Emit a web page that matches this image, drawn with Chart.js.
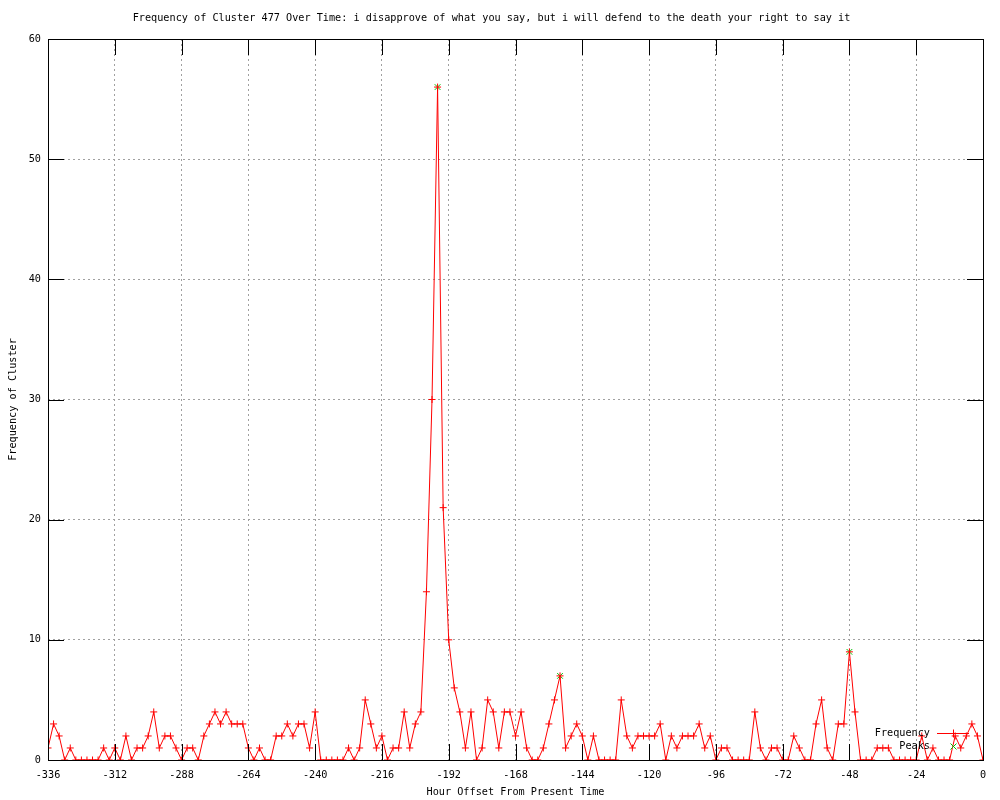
<!DOCTYPE html>
<html>
<head>
<meta charset="utf-8">
<script src="https://cdn.jsdelivr.net/npm/chart.js@4"></script>
<style>
  html, body { margin: 0; padding: 0; background: #fff; }
  canvas { display: block; }
</style>
</head>
<body>
<canvas id="chart" width="1000" height="800"></canvas>
<script>
// data (one value every 2 hours, -336 .. 0)
const START_HOUR = -336;
const STEP_HOURS = 2;
const frequency = [
  1, 3, 2, 0, 1, 0, 0, 0, 0, 0, 1, 0, 1, 0, 2, 0, 1, 1, 2, 4,
  1, 2, 2, 1, 0, 1, 1, 0, 2, 3, 4, 3, 4, 3, 3, 3, 1, 0, 1, 0,
  0, 2, 2, 3, 2, 3, 3, 1, 4, 0, 0, 0, 0, 0, 1, 0, 1, 5, 3, 1,
  2, 0, 1, 1, 4, 1, 3, 4, 14, 30, 56, 21, 10, 6, 4, 1, 4, 0, 1, 5,
  4, 1, 4, 4, 2, 4, 1, 0, 0, 1, 3, 5, 7, 1, 2, 3, 2, 0, 2, 0,
  0, 0, 0, 5, 2, 1, 2, 2, 2, 2, 3, 0, 2, 1, 2, 2, 2, 3, 1, 2,
  0, 1, 1, 0, 0, 0, 0, 4, 1, 0, 1, 1, 0, 0, 2, 1, 0, 0, 3, 5,
  1, 0, 3, 3, 9, 4, 0, 0, 0, 1, 1, 1, 0, 0, 0, 0, 0, 2, 0, 1,
  0, 0, 0, 2, 1, 2, 3, 2, 0
];
const hours = frequency.map((v, i) => START_HOUR + i * STEP_HOURS);

const peakHours = [-196, -152, -48];
const peakValues = [56, 7, 9];

const xTicks = [-336, -312, -288, -264, -240, -216, -192, -168, -144, -120, -96, -72, -48, -24, 0];
const yTicks = [0, 10, 20, 30, 40, 50, 60];

const titleText = 'Frequency of Cluster 477 Over Time: i disapprove of what you say, but i will defend to the death your right to say it';
const xLabel = 'Hour Offset From Present Time';
const yLabel = 'Frequency of Cluster';

const FONT = "'DejaVu Sans Mono', 'Liberation Mono', monospace";
const FSIZE = 10.2;
const TICK_LEN = 16;
const RED = '#ff0000';
const GREEN = '#00c000';

// key entries, in the order gnuplot lists them
const keyEntries = [
  { label: 'Frequency', color: RED, line: true, mark: 'plus' },
  { label: 'Peaks', color: GREEN, line: false, mark: 'x' }
];

// frame, inward ticks and the gnuplot style key
const gnuplotFrame = {
  id: 'gnuplotFrame',
  afterDatasetsDraw(chart) {
    const ctx = chart.ctx;
    const a = chart.chartArea;
    const xs = chart.scales.x, ys = chart.scales.y;
    ctx.save();
    ctx.strokeStyle = '#000';
    ctx.lineWidth = 1;
    ctx.setLineDash([]);
    ctx.beginPath();
    xTicks.forEach(t => {
      const px = Math.round(xs.getPixelForValue(t)) + 0.5;
      ctx.moveTo(px, a.bottom); ctx.lineTo(px, a.bottom - TICK_LEN);
      ctx.moveTo(px, a.top); ctx.lineTo(px, a.top + TICK_LEN);
    });
    yTicks.forEach(t => {
      const py = Math.round(ys.getPixelForValue(t)) + 0.5;
      ctx.moveTo(a.left, py); ctx.lineTo(a.left + TICK_LEN, py);
      ctx.moveTo(a.right, py); ctx.lineTo(a.right - TICK_LEN, py);
    });
    ctx.stroke();
    ctx.strokeRect(Math.round(a.left) + 0.5, Math.round(a.top) + 0.5,
      Math.round(a.right - a.left), Math.round(a.bottom - a.top));

    // key, bottom right inside the plot
    const textRight = Math.round(a.right - 53);
    const sampleL = Math.round(a.right - 46), sampleR = Math.round(a.right - 14);
    const mid = Math.round((sampleL + sampleR) / 2) + 0.5;
    ctx.font = FSIZE + 'px ' + FONT;
    ctx.textAlign = 'right';
    ctx.textBaseline = 'middle';
    keyEntries.forEach((k, i) => {
      const y = Math.round(a.bottom - 27 + i * 13) + 0.5;
      ctx.fillStyle = '#000';
      ctx.fillText(k.label, textRight, y);
      ctx.strokeStyle = k.color;
      ctx.lineWidth = 1;
      ctx.beginPath();
      if (k.line) {
        ctx.moveTo(sampleL, y); ctx.lineTo(sampleR, y);
      }
      if (k.mark === 'plus') {
        ctx.moveTo(mid - 4, y); ctx.lineTo(mid + 4, y);
        ctx.moveTo(mid, y - 4); ctx.lineTo(mid, y + 4);
      } else {
        ctx.moveTo(mid - 3, y - 3); ctx.lineTo(mid + 3, y + 3);
        ctx.moveTo(mid - 3, y + 3); ctx.lineTo(mid + 3, y - 3);
      }
      ctx.stroke();
    });
    ctx.restore();
  }
};

new Chart(document.getElementById('chart'), {
  type: 'line',
  data: {
    datasets: [
      {
        label: keyEntries[0].label,
        data: hours.map((h, i) => ({ x: h, y: frequency[i] })),
        borderColor: RED,
        backgroundColor: RED,
        borderWidth: 1,
        tension: 0,
        pointStyle: 'cross',
        pointRadius: 3.5,
        pointBorderWidth: 1,
        pointBorderColor: RED,
        fill: false
      },
      {
        label: keyEntries[1].label,
        data: peakHours.map((h, i) => ({ x: h, y: peakValues[i] })),
        showLine: false,
        borderColor: GREEN,
        backgroundColor: GREEN,
        pointStyle: 'crossRot',
        pointRadius: 4,
        pointBorderWidth: 1,
        pointBorderColor: GREEN
      }
    ]
  },
  options: {
    responsive: false,
    devicePixelRatio: 1,
    animation: false,
    layout: { padding: { top: 0, right: 17, bottom: 0, left: 0 } },
    plugins: {
      legend: { display: false },
      tooltip: { enabled: false },
      title: {
        display: true,
        text: titleText,
        color: '#000',
        font: { family: FONT, size: FSIZE, weight: 'normal', lineHeight: 1.2 },
        padding: { top: 12, bottom: 14.76 }
      }
    },
    scales: {
      x: {
        type: 'linear',
        min: -336,
        max: 0,
        afterFit(scale) { scale.height = 40; },
        afterBuildTicks(scale) { scale.ticks = xTicks.map(v => ({ value: v })); },
        ticks: {
          color: '#000',
          padding: 9,
          maxRotation: 0,
          autoSkip: false,
          font: { family: FONT, size: FSIZE },
          callback: v => String(v)
        },
        grid: { color: '#a0a0a0', lineWidth: 1, drawTicks: false },
        border: { display: false, dash: [2, 3] },
        title: {
          display: true,
          text: xLabel,
          color: '#000',
          font: { family: FONT, size: FSIZE, lineHeight: 1.2 },
          padding: { top: 0, bottom: 2 }
        }
      },
      y: {
        type: 'linear',
        min: 0,
        max: 60,
        afterFit(scale) { scale.width = 48; },
        afterBuildTicks(scale) { scale.ticks = yTicks.map(v => ({ value: v })); },
        ticks: {
          color: '#000',
          padding: 7,
          font: { family: FONT, size: FSIZE },
          callback: v => String(v)
        },
        grid: { color: '#a0a0a0', lineWidth: 1, drawTicks: false },
        border: { display: false, dash: [2, 3] },
        title: {
          display: true,
          text: yLabel,
          color: '#000',
          font: { family: FONT, size: FSIZE, lineHeight: 1.2 },
          padding: { top: 7, bottom: 0 }
        }
      }
    }
  },
  plugins: [gnuplotFrame]
});
</script>
</body>
</html>
